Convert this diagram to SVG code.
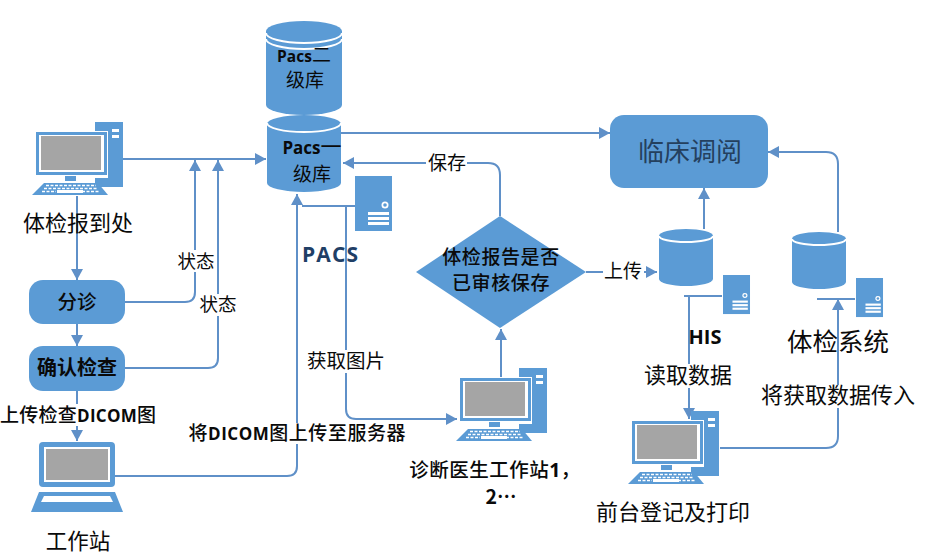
<svg xmlns="http://www.w3.org/2000/svg" width="931" height="554" viewBox="0 0 931 554">
<style>
text{font-family:"Noto Sans CJK SC","Liberation Sans",sans-serif;fill:#0a0a0a;text-anchor:middle}
.b{font-family:"Open Sans","Noto Sans CJK SC",sans-serif;font-weight:700}
.m{font-weight:500}
.f{fill:#5b9bd5}
.w{fill:#fff}
.g{fill:#a5a5a5}
.c{fill:none;stroke:#5f90c8;stroke-width:2;marker-end:url(#a)}
.n{fill:none;stroke:#5f90c8;stroke-width:2}
.arc{fill:none;stroke:#fff;stroke-width:2}
</style>
<defs>
<marker id="a" markerUnits="userSpaceOnUse" markerWidth="12" markerHeight="12" refX="11" refY="6" orient="auto"><path d="M0 0L11 6L0 12Z" fill="#5f90c8"/></marker>
<g id="pc">
<rect class="f" x="63" y="0" width="28" height="65"/>
<rect class="w" x="80" y="7" width="7" height="3"/>
<rect class="w" x="80" y="13" width="7" height="3"/>
<rect class="w" x="2" y="9" width="74" height="47"/>
<rect class="f" x="4" y="10" width="71" height="43"/>
<rect class="w" x="7" y="13" width="65" height="37"/>
<rect class="g" x="9" y="14" width="60" height="34"/>
<rect class="f" x="33" y="54" width="11" height="5"/>
<path class="f" d="M12 61H66L76 73H0Z"/>
<path d="M14 63.500H64M12 66.500H66M10 69.500H24M50 69.500H67" stroke="#fff" stroke-width="1.600" stroke-dasharray="3 1.500" fill="none"/>
<rect class="w" x="25" y="68" width="26" height="3"/>
</g>
<g id="srv">
<rect class="f" width="37" height="55"/>
<circle cx="30" cy="29" r="3.500" fill="#fff"/><circle cx="30" cy="29" r="1.800" class="f"/>
<rect class="w" x="13" y="36" width="21" height="3"/>
<rect class="w" x="13" y="41" width="21" height="3"/>
<rect class="w" x="13" y="46" width="21" height="3"/>
</g>
</defs>
<rect width="931" height="554" fill="#fff"/>

<g id="connectors">
<path class="c" d="M123 159H266"/>
<path class="c" d="M125 302H185Q195 302 195 292V160"/>
<path class="c" d="M125 368H208Q218 368 218 358V160"/>
<path class="c" d="M77 196V280"/>
<path class="c" d="M77 324V346"/>
<path class="c" d="M77 391V441"/>
<path class="c" d="M115 476H287Q297 476 297 466V194"/>
<path class="n" d="M302 206H355"/>
<path class="c" d="M346 206V409Q346 419 356 419H457"/>
<path class="c" d="M341 133H610"/>
<path class="c" d="M500 216V175Q500 163 488 163H343"/>
<path class="c" d="M501 378V329"/>
<path class="c" d="M586 272H657"/>
<path class="c" d="M704 229V188"/>
<path class="c" d="M838 232V164Q838 152 826 152H768"/>
<path class="n" d="M684 296H722"/>
<path class="c" d="M689 296V419"/>
<path class="n" d="M817 299H855"/>
<path class="c" d="M720 448H826Q838 448 838 436V299"/>
</g>

<g id="node-reception">
<use href="#pc" x="32" y="122"/>
<text x="78" y="231" font-size="22">体检报到处</text>
</g>
<g id="node-triage">
<rect class="f" x="29" y="280" width="96" height="44" rx="14"/>
<text class="m" x="77" y="309" font-size="19.500">分诊</text>
</g>
<g id="node-confirm">
<rect class="f" x="29" y="346" width="96" height="45" rx="14"/>
<text x="77" y="375" font-size="20" font-weight="700">确认检查</text>
</g>
<g id="node-laptop">
<rect class="f" x="39" y="442" width="76" height="45" rx="4"/>
<rect class="w" x="44" y="447" width="66" height="35"/>
<rect class="g" x="46" y="449" width="62" height="31"/>
<path class="f" d="M39 492H115L123 512H31Z"/>
<path class="w" d="M44 496H110L113 502H41Z"/>
<text x="78" y="549" font-size="21.500">工作站</text>
</g>
<g id="node-pacs2">
<path class="f" d="M266 31A38 10 0 0 1 342 31V105A38 10 0 0 1 266 105Z"/>
<path class="arc" d="M266 33A38 10 0 0 0 342 33"/>
<path class="arc" d="M266 39A38 10 0 0 0 342 39"/>
<text x="304" y="62" font-size="19"><tspan class="b" font-size="15.500">Pacs</tspan>二</text>
<text x="305" y="87" font-size="19">级库</text>
</g>
<g id="node-pacs1">
<path class="f" d="M267 124A37 9 0 0 1 341 124V183A37 9 0 0 1 267 183Z"/>
<path class="arc" d="M267 123A37 9 0 0 0 341 123"/>
<text x="312" y="154" font-size="21"><tspan class="b" font-size="17">Pacs</tspan>一</text>
<text x="312" y="181" font-size="19">级库</text>
</g>
<g id="node-pacs-server">
<use href="#srv" x="355" y="176"/>
<text class="b" x="330" y="262" font-size="21" style="fill:#1f3f66" textLength="56">PACS</text>
</g>
<g id="node-decision">
<path class="f" d="M416 272L500 216L586 272L500 328Z"/>
<text class="m" font-size="19" letter-spacing=".6"><tspan x="501" y="264">体检报告是否</tspan><tspan x="501" y="290">已审核保存</tspan></text>
</g>
<g id="node-doctor">
<use href="#pc" x="456" y="368"/>
<text class="m" font-size="19.500"><tspan x="495" y="477" letter-spacing=".5">诊断医生工作站<tspan class="b">1</tspan>，</tspan><tspan x="501" y="504" font-weight="700">2…</tspan></text>
</g>
<g id="node-clinical">
<rect class="f" x="610" y="115" width="158" height="73" rx="14"/>
<text x="690" y="161" font-size="26" style="fill:#24405e">临床调阅</text>
</g>
<g id="node-his">
<path class="f" d="M659 236A27 7 0 0 1 713 236V279A27 7 0 0 1 659 279Z"/>
<path class="arc" d="M659 236A27 6 0 0 0 713 236"/>
<use href="#srv" transform="translate(723 275) scale(.73 .71)"/>
<text class="b" x="705" y="344" font-size="20">HIS</text>
</g>
<g id="node-exam">
<path class="f" d="M792 239A27 7 0 0 1 846 239V282A27 7 0 0 1 792 282Z"/>
<path class="arc" d="M792 239A27 6 0 0 0 846 239"/>
<use href="#srv" transform="translate(856 278) scale(.73 .71)"/>
<text x="838" y="351" font-size="25.500">体检系统</text>
</g>
<g id="node-front">
<use href="#pc" x="628" y="411"/>
<text x="673" y="520" font-size="22">前台登记及打印</text>
</g>

<g id="labels">
<rect class="w" x="176" y="250" width="40" height="22"/>
<text x="196" y="268" font-size="18.500">状态</text>
<rect class="w" x="198" y="294" width="40" height="22"/>
<text x="218" y="311" font-size="18.500">状态</text>
<rect class="w" x="0" y="404" width="158" height="22"/>
<text class="m" x="78" y="422" font-size="19" textLength="156"><tspan>上传检查</tspan><tspan class="b" font-size="17">DICOM</tspan><tspan>图</tspan></text>
<rect class="w" x="187" y="423" width="220" height="21"/>
<text class="m" x="297" y="440" font-size="19" textLength="217"><tspan>将</tspan><tspan class="b" font-size="17">DICOM</tspan><tspan>图上传至服务器</tspan></text>
<rect class="w" x="306" y="350" width="80" height="23"/>
<text x="346" y="368" font-size="19.500">获取图片</text>
<rect class="w" x="426" y="153" width="41" height="21"/>
<text x="447" y="170" font-size="19">保存</text>
<rect class="w" x="603" y="261" width="41" height="23"/>
<text x="623" y="278" font-size="19">上传</text>
<rect class="w" x="643" y="364" width="89" height="24"/>
<text x="688" y="383" font-size="22">读取数据</text>
<rect class="w" x="760" y="385" width="156" height="23"/>
<text x="838" y="403" font-size="22">将获取数据传入</text>
</g>
</svg>
